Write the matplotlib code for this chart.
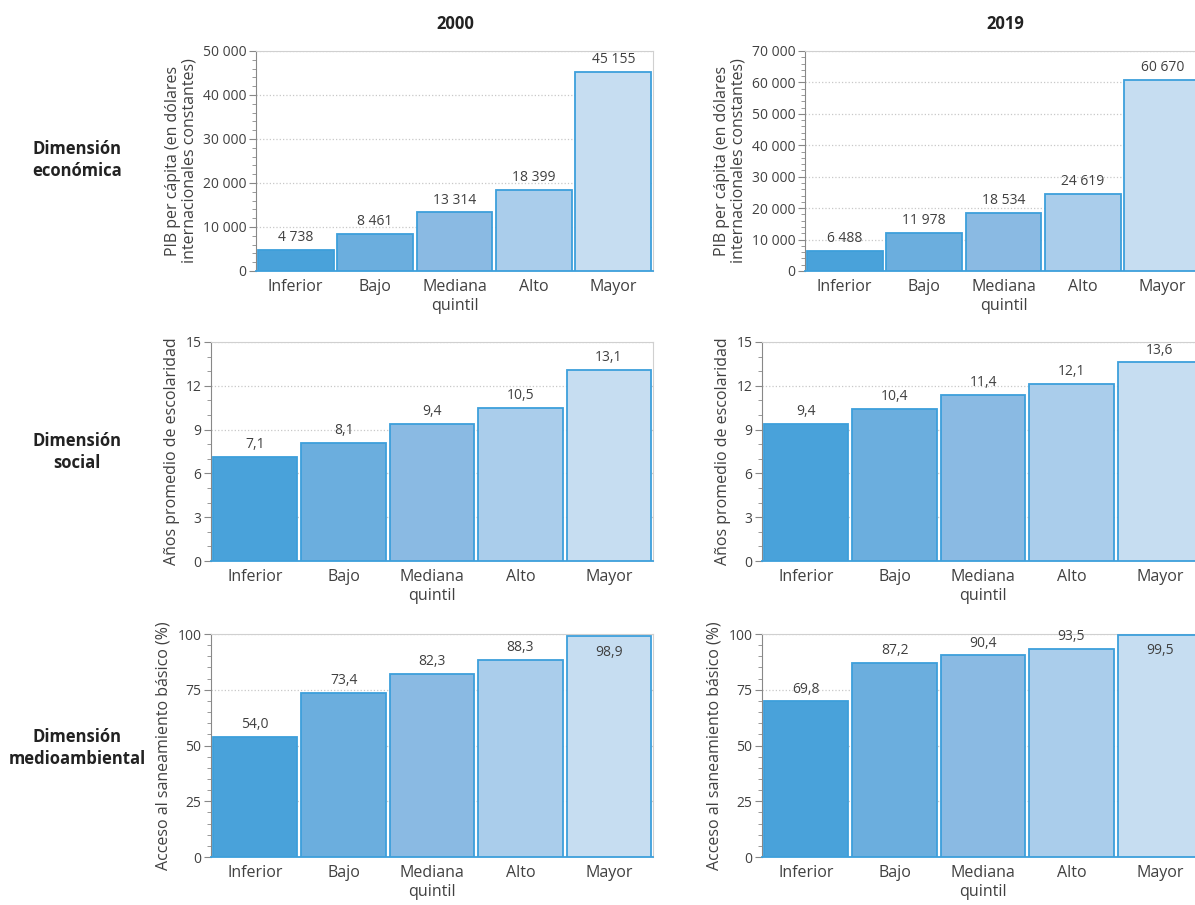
import numpy as np
import matplotlib
matplotlib.use('Agg')
import matplotlib.pyplot as plt
from matplotlib.ticker import MultipleLocator, FuncFormatter

plt.rcParams['font.family'] = ['Open Sans', 'DejaVu Sans']

quintiles = ['Inferior', 'Bajo', 'Mediana', 'Alto', 'Mayor']
years = ['2000', '2019']
dimensiones = ['Dimensión\neconómica', 'Dimensión\nsocial', 'Dimensión\nmedioambiental']

pib_2000 = [4738, 8461, 13314, 18399, 45155]
pib_2019 = [6488, 11978, 18534, 24619, 60670]
escol_2000 = [7.1, 8.1, 9.4, 10.5, 13.1]
escol_2019 = [9.4, 10.4, 11.4, 12.1, 13.6]
saneam_2000 = [54.0, 73.4, 82.3, 88.3, 98.9]
saneam_2019 = [69.8, 87.2, 90.4, 93.5, 99.5]

colores = ['#49a2da', '#6baede', '#8abae3', '#aacdeb', '#c6ddf1']
borde = '#3d9fdb'
gris = '#404040'


def miles(v, pos=None):
    return f'{v:,.0f}'.replace(',', ' ')


def decimal(v, pos=None):
    return f'{v:.1f}'.replace('.', ',')


def entero(v, pos=None):
    return f'{v:.0f}'


filas = [
    dict(datos=[pib_2000, pib_2019], ymax=[50000, 70000], major=10000, minor=2000,
         ylabel='PIB per cápita (en dólares\ninternacionales constantes)', fmt_tick=miles, fmt_val=miles,
         pos=[(0.2142, 0.7006, 0.3322, 0.2431), (0.6736, 0.7006, 0.3322, 0.2431)]),
    dict(datos=[escol_2000, escol_2019], ymax=[15, 15], major=3, minor=1,
         ylabel='Años promedio de escolaridad', fmt_tick=entero, fmt_val=decimal,
         pos=[(0.1766, 0.3801, 0.3699, 0.2420), (0.6377, 0.3801, 0.3699, 0.2420)]),
    dict(datos=[saneam_2000, saneam_2019], ymax=[100, 100], major=25, minor=5,
         ylabel='Acceso al saneamiento básico (%)', fmt_tick=entero, fmt_val=decimal,
         pos=[(0.1766, 0.0530, 0.3699, 0.2464), (0.6377, 0.0530, 0.3699, 0.2464)]),
]

fig = plt.figure(figsize=(11.95, 9.05), dpi=100)

x = np.arange(len(quintiles))
for i, fila in enumerate(filas):
    for j in range(2):
        ax = fig.add_axes(fila['pos'][j])
        vals = fila['datos'][j]
        ymax = fila['ymax'][j]
        ax.bar(x, vals, width=0.955, color=colores, edgecolor=borde, linewidth=1.3, zorder=3)
        ax.set_xlim(-0.5, 4.5)
        ax.set_ylim(0, ymax)
        ax.yaxis.set_major_locator(MultipleLocator(fila['major']))
        ax.yaxis.set_minor_locator(MultipleLocator(fila['minor']))
        ax.yaxis.set_major_formatter(FuncFormatter(fila['fmt_tick']))
        ax.grid(axis='y', which='major', color='#c8c8c8', linestyle=':', linewidth=0.9, zorder=0)
        ax.set_xticks(x)
        ax.set_xticklabels(quintiles, fontsize=11.5, color=gris)
        ax.tick_params(axis='x', length=0, pad=6)
        ax.tick_params(axis='y', which='major', length=5, color='#888888', labelsize=10, labelcolor=gris, pad=2)
        ax.tick_params(axis='y', which='minor', length=3, color='#888888')
        for s in ['top', 'right']:
            ax.spines[s].set_color('#d0d0d0')
            ax.spines[s].set_linewidth(0.8)
        ax.spines['left'].set_color('#888888')
        ax.spines['bottom'].set_color(borde)
        ax.spines['bottom'].set_linewidth(1.3)
        ax.set_xlabel('quintil', fontsize=11.5, color=gris, labelpad=2)
        ax.set_ylabel(fila['ylabel'], fontsize=11.5, color=gris, labelpad=4, linespacing=1.0)
        for k, v in enumerate(vals):
            if v > 0.95 * ymax:
                ax.annotate(fila['fmt_val'](v), (x[k], v), xytext=(0, -6), textcoords='offset points',
                            ha='center', va='top', fontsize=10, color=gris, zorder=4)
            else:
                ax.annotate(fila['fmt_val'](v), (x[k], v), xytext=(0, 3.5), textcoords='offset points',
                            ha='center', va='bottom', fontsize=10, color=gris, zorder=4)

fig.text(455 / 1195, 1 - 24 / 905, years[0], ha='center', va='center', fontsize=12, fontweight='bold', color='#222222')
fig.text(1005 / 1195, 1 - 24 / 905, years[1], ha='center', va='center', fontsize=12, fontweight='bold', color='#222222')

for y_px, nombre in zip([160, 452, 748], dimensiones):
    fig.text(77 / 1195, 1 - y_px / 905, nombre, ha='center', va='center', fontsize=12,
             fontweight='bold', color='#222222', linespacing=1.25)

fig.savefig('out.png', dpi=100)
